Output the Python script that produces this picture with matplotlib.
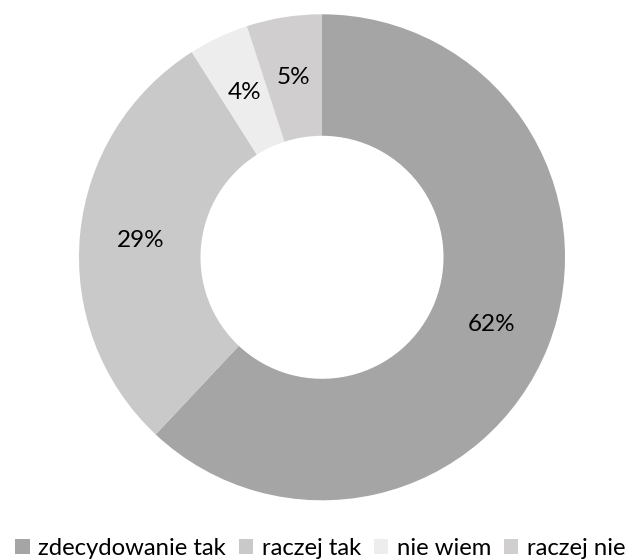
import matplotlib.pyplot as plt

plt.rcParams['font.family'] = ['Lato', 'DejaVu Sans']

# dane
labels = ['zdecydowanie tak', 'raczej tak', 'nie wiem', 'raczej nie']
values = [62, 29, 4, 5]
colors = ['#A5A5A5', '#C9C9C9', '#EDEDED', '#D0CECE']

fig = plt.figure(figsize=(6.33, 5.6), dpi=100)
ax = fig.add_axes([0.1248, 0.1066, 0.7678, 0.8679])

wedges, texts, autotexts = ax.pie(values, colors=colors, startangle=90, counterclock=False,
                                  autopct='%1.0f%%', pctdistance=0.75,
                                  wedgeprops=dict(width=0.5, linewidth=0),
                                  textprops=dict(fontsize=17.5, color='#000000'))
ax.set_xlim(-1, 1)
ax.set_ylim(-1, 1)
ax.set_aspect('equal')

fig.legend(wedges, labels, loc='center', bbox_to_anchor=(0.506, 0.021), ncol=4,
           frameon=False, fontsize=17.2, handlelength=0.6, handleheight=0.6,
           handletextpad=0.35, columnspacing=0.55)

fig.savefig('out.png', dpi=100)
